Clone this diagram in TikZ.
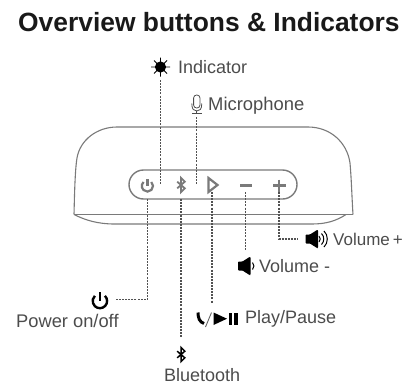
\documentclass[tikz,border=0pt]{standalone}
\usepackage{fontspec}
\setmainfont{Liberation Sans}
\definecolor{txt}{gray}{0.3}
\definecolor{bodyc}{gray}{0.48}
\tikzset{
  lab/.style={inner sep=0pt,text=txt,font=\fontsize{18}{20}\selectfont,anchor=west},
  conn/.style={draw=black!68,line width=1.25pt,dash pattern=on 2pt off 1.1pt},
  outline/.style={draw=bodyc,line width=1.1pt},
  btn/.style={draw=bodyc,line width=2.2pt}
}
\newcommand{\powericon}[5]{% x y r lw colour
  \draw[#5,line width=#4] ({#1+0.68*#3},{#2-0.72*#3}) arc[start angle=46,end angle=-226,radius=#3 pt];
  \draw[#5,line width=#4] (#1,{#2-1.25*#3}) -- (#1,{#2-0.05*#3});
}
\newcommand{\btooth}[5]{% x y scale lw colour
  \begin{scope}[shift={(#1,#2)},x=#3,y=#3]
  \draw[#5,line width=#4] (-4,-3.5) -- (4,3.5) -- (0,7.5) -- (0,-7.5) -- (4,-3.5) -- (-4,3.5);
  \end{scope}
}
\newcommand{\speaker}[2]{%
  \fill[rounded corners=0.8pt] (#1,#2-4.5) -- (#1+4.5,#2-4.5) -- (#1+11.5,#2-9) -- (#1+12.5,#2-9) -- (#1+12.5,#2+9) -- (#1+11.5,#2+9) -- (#1+4.5,#2+4.5) -- (#1,#2+4.5) -- cycle;
}
\newcommand{\wave}[3]{% x y halfheight
  \draw[line width=1pt] (#1,#2-#3) .. controls (#1+0.55*#3,#2-0.5*#3) and (#1+0.55*#3,#2+0.5*#3) .. (#1,#2+#3);
}
\begin{document}
\begin{tikzpicture}[x=1pt,y=-1pt]
\useasboundingbox (0,0) rectangle (404,391);
\node[inner sep=0pt,anchor=base west,font=\fontsize{26.4}{30}\bfseries\selectfont,text=black!90] (title) at (18,31.5) {Overview buttons \& Indicators};

% speaker body
\draw[outline] (74,214.5) .. controls (74.5,195) and (75,170) .. (77,158)
  .. controls (80,140) and (97,127) .. (117,127) -- (308,127)
  .. controls (330,127) and (347,142) .. (350,163)
  .. controls (351.5,180) and (352,200) .. (353,214.5);
\draw[outline] (74,214.5) -- (353,214.5);
\draw[outline] (74,214.5) .. controls (85,220) and (97,224) .. (115,224) -- (312,224)
  .. controls (326,224) and (336,221) .. (346,214.5);
\draw[outline,line width=1.4pt,rounded corners=14.5pt] (129,170) rectangle (297,199);

% buttons
\powericon{147.5}{186}{5.6}{2.2pt}{bodyc}
\btooth{181}{185}{0.95pt}{1.8pt}{bodyc}
\draw[btn] (208.5,178) -- (217.5,185) -- (208.5,192) -- cycle;
\draw[btn] (240,185.5) -- (252,185.5);
\draw[btn] (273,185.5) -- (285.5,185.5) (279.2,179.5) -- (279.2,191.5);

% coordinates
\coordinate (ind1) at (160.5,80);
\coordinate (ind2) at (160.5,185);
\coordinate (mic1) at (196.5,117);
\coordinate (mic2) at (196.5,185);
\coordinate (pow1) at (147.5,199);
\coordinate (powc) at (147.5,299.5);
\coordinate (pow2) at (115,299.5);
\coordinate (bt1) at (181,199);
\coordinate (bt2) at (181,338);
\coordinate (pl1) at (212,192);
\coordinate (pl2) at (212,303);
\coordinate (vm1) at (245.5,192);
\coordinate (vm2) at (245.5,250);
\coordinate (vp1) at (279,192);
\coordinate (vpc) at (279,239);
\coordinate (vp2) at (298,239);
\draw[conn] (ind1) -- (ind2);
\draw[conn] (mic1) -- (mic2);
\draw[conn] (pow1) -- (powc) -- (pow2);
\draw[conn] (bt1) -- (bt2);
\draw[conn] (pl1) -- (pl2);
\draw[conn] (vm1) -- (vm2);
\draw[conn] (vp1) -- (vpc) -- (vp2);

% sun icon
\fill (160.5,67) circle (5.6pt);
\draw[line width=0.8pt] (151,67) -- (170,67) (160.5,57.5) -- (160.5,76.5)
  (154,60.5) -- (167,73.5) (154,73.5) -- (167,60.5);
% mic icon
\draw[line width=0.8pt,draw=black!70,rounded corners=3pt] (193.6,95) rectangle (200,108);
\draw[line width=0.8pt,draw=black!70] (191.8,103.5) .. controls (191.8,109.5) and (194,111) .. (196.8,111) .. controls (199.6,111) and (201.8,109.5) .. (201.8,103.5);
\draw[line width=0.8pt,draw=black!70] (196.8,111) -- (196.8,113) (192,113) -- (201.6,113);

% text
\node[lab] (indl) at (178,67) {Indicator};
\node[lab,font=\fontsize{18.4}{20}\selectfont] (micl) at (208,105.5) {Microphone};
\node[lab,font=\fontsize{17}{20}\selectfont] (vpl) at (333,239.5) {Volume\hspace{-0.1em} +};
\node[lab] (vml) at (259,266.5) {Volume -};
\node[lab,font=\fontsize{18.3}{20}\selectfont] (powl) at (16,321) {Power on/off};
\node[lab] (pll) at (245,319) {Play/Pause};
\node[lab] (btl) at (164,375.5) {Bluetooth};

% power icon
\powericon{100}{301}{7.2}{2.4pt}{black}
% bluetooth icon
\btooth{181}{354.5}{0.95pt}{1.5pt}{black}
% speaker icons
\speaker{305.5}{239}
\wave{319}{239}{3}
\wave{321.5}{239}{5.5}
\wave{324}{239}{8}
\speaker{238}{266}
\wave{252.5}{266}{3.5}
% phone / play pause
\draw[line width=3pt] (198,312.5) .. controls (198,318) and (199.5,322) .. (204,323.5);
\draw[line width=0.9pt,draw=black!60] (205.5,327) -- (211.5,312.5);
\fill (213.5,312.5) -- (227,318.7) -- (213.5,325) -- cycle;
\fill (228.5,312.5) rectangle (232,325);
\fill (234,312.5) rectangle (237.5,325);
\end{tikzpicture}
\end{document}
